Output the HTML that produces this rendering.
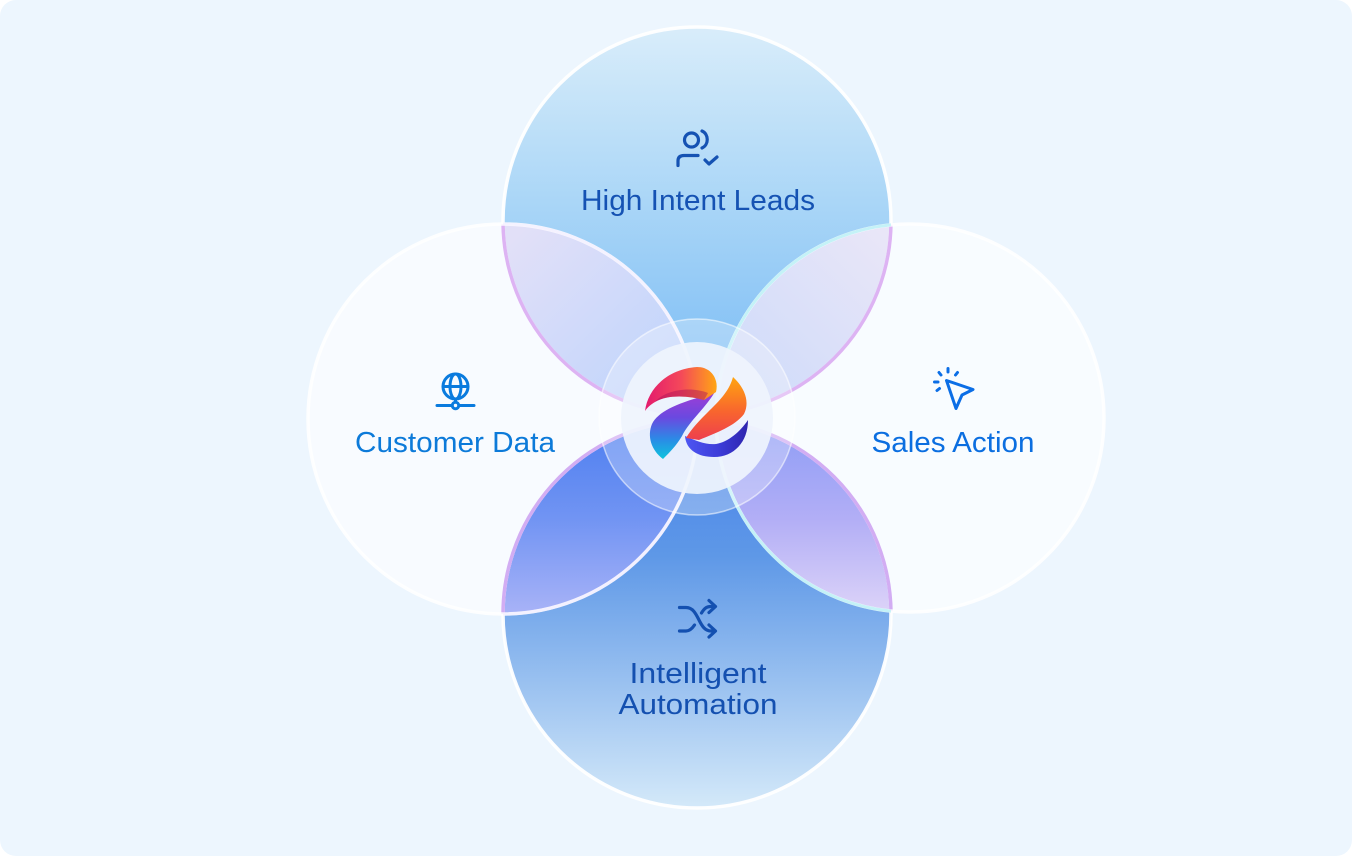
<!DOCTYPE html>
<html>
<head>
<meta charset="utf-8">
<style>
html,body{margin:0;padding:0;background:#ffffff;}
body{width:1352px;height:856px;overflow:hidden;}
svg{display:block;}
text{font-family:"Liberation Sans", sans-serif;}
</style>
</head>
<body>
<svg width="1352" height="856" viewBox="0 0 1352 856" xmlns="http://www.w3.org/2000/svg">
<defs>
  <linearGradient id="gTop" x1="0" y1="27" x2="0" y2="415" gradientUnits="userSpaceOnUse">
    <stop offset="0" stop-color="#D9EDFA"/>
    <stop offset="0.45" stop-color="#AAD6F7"/>
    <stop offset="1" stop-color="#74B8F4"/>
  </linearGradient>
  <linearGradient id="gBot" x1="0" y1="420" x2="0" y2="808" gradientUnits="userSpaceOnUse">
    <stop offset="0" stop-color="#4680EA"/>
    <stop offset="0.35" stop-color="#5E98E7"/>
    <stop offset="1" stop-color="#D4E9F9"/>
  </linearGradient>
  <linearGradient id="gTL" x1="520" y1="230" x2="690" y2="400" gradientUnits="userSpaceOnUse">
    <stop offset="0" stop-color="#E2E0F8"/>
    <stop offset="1" stop-color="#BCD3FC"/>
  </linearGradient>
  <linearGradient id="gTR" x1="880" y1="230" x2="715" y2="400" gradientUnits="userSpaceOnUse">
    <stop offset="0" stop-color="#E9E6F8"/>
    <stop offset="1" stop-color="#CCDAFA"/>
  </linearGradient>
  <linearGradient id="gBL" x1="0" y1="425" x2="0" y2="612" gradientUnits="userSpaceOnUse">
    <stop offset="0" stop-color="#4E7FF0"/>
    <stop offset="0.5" stop-color="#7194F3"/>
    <stop offset="1" stop-color="#A7B2F7"/>
  </linearGradient>
  <linearGradient id="gBR" x1="0" y1="425" x2="0" y2="612" gradientUnits="userSpaceOnUse">
    <stop offset="0" stop-color="#8E9DF5"/>
    <stop offset="0.5" stop-color="#B2AEF6"/>
    <stop offset="1" stop-color="#DCD3F8"/>
  </linearGradient>
  <clipPath id="cTop"><circle cx="697" cy="221" r="194"/></clipPath>
  <clipPath id="cBot"><circle cx="697" cy="614" r="194"/></clipPath>
  <clipPath id="cLR">
    <circle cx="503" cy="419" r="195"/>
    <circle cx="910" cy="418" r="194"/>
  </clipPath>
  <clipPath id="cTB">
    <circle cx="697" cy="221" r="194"/>
    <circle cx="697" cy="614" r="194"/>
  </clipPath>
  <linearGradient id="gBand" x1="0" y1="0" x2="0" y2="1">
    <stop offset="0" stop-color="#A43BD4"/>
    <stop offset="0.4" stop-color="#6A49E0"/>
    <stop offset="0.72" stop-color="#2A8CE6"/>
    <stop offset="1" stop-color="#0EC4DD"/>
  </linearGradient>
  <linearGradient id="gHook" x1="0" y1="0" x2="1" y2="0">
    <stop offset="0" stop-color="#E31A6E"/>
    <stop offset="0.5" stop-color="#F4485A"/>
    <stop offset="1" stop-color="#FFA614"/>
  </linearGradient>
  <linearGradient id="gBand2" x1="0" y1="0" x2="0" y2="1">
    <stop offset="0" stop-color="#FFA510"/>
    <stop offset="0.55" stop-color="#F8652E"/>
    <stop offset="1" stop-color="#EE3F4E"/>
  </linearGradient>
  <linearGradient id="gHook2" x1="0" y1="0" x2="1" y2="0">
    <stop offset="0" stop-color="#4D56F2"/>
    <stop offset="0.55" stop-color="#3C3CD8"/>
    <stop offset="1" stop-color="#2E24AE"/>
  </linearGradient>
</defs>

<!-- background -->
<rect x="0" y="0" width="1352" height="856" rx="16" ry="16" fill="#EDF6FE"/>

<!-- top and bottom circles -->
<circle cx="697" cy="221" r="194" fill="url(#gTop)"/>
<circle cx="697" cy="614" r="194" fill="url(#gBot)"/>

<!-- left and right circles (translucent white) -->
<circle cx="503" cy="419" r="195" fill="#FFFFFF" fill-opacity="0.6"/>
<circle cx="910" cy="418" r="194" fill="#FFFFFF" fill-opacity="0.62"/>

<!-- lens regions -->
<g clip-path="url(#cTop)">
  <circle cx="503" cy="419" r="195" fill="url(#gTL)"/>
  <circle cx="910" cy="418" r="194" fill="url(#gTR)"/>
</g>
<g clip-path="url(#cBot)">
  <circle cx="503" cy="419" r="195" fill="url(#gBL)"/>
  <circle cx="910" cy="418" r="194" fill="url(#gBR)"/>
</g>

<!-- strokes -->
<circle cx="697" cy="221" r="194" fill="none" stroke="#FFFFFF" stroke-width="3.5" stroke-opacity="0.95"/>
<circle cx="697" cy="614" r="194" fill="none" stroke="#FFFFFF" stroke-width="3.5" stroke-opacity="0.95"/>
<g clip-path="url(#cLR)">
  <circle cx="697" cy="221" r="194" fill="none" stroke="#DDB3F3" stroke-width="3.5"/>
  <circle cx="697" cy="614" r="194" fill="none" stroke="#D2ADF3" stroke-width="3.5"/>
</g>
<circle cx="503" cy="419" r="195" fill="none" stroke="#FFFFFF" stroke-width="3.5" stroke-opacity="0.85"/>
<circle cx="910" cy="418" r="194" fill="none" stroke="#FFFFFF" stroke-width="3.5" stroke-opacity="0.85"/>
<g clip-path="url(#cTB)">
  <circle cx="910" cy="418" r="194" fill="none" stroke="#BFF1F6" stroke-width="3" stroke-opacity="0.9"/>
  <circle cx="503" cy="419" r="195" fill="none" stroke="#F4F0FF" stroke-width="3" stroke-opacity="0.8"/>
</g>

<!-- center rings -->
<circle cx="697" cy="417" r="98" fill="#FFFFFF" fill-opacity="0.28" stroke="#FFFFFF" stroke-opacity="0.55" stroke-width="1.5"/>
<circle cx="697" cy="418" r="76" fill="#EFF4FD" fill-opacity="0.92"/>

<!-- logo: left swoosh -->
<path d="M 716 390 C 706 408, 690 420, 682 436 C 676 446, 670 452, 663 459 C 651 450, 647 436, 652 424 C 658 412, 675 404, 704 396 Z" fill="url(#gBand)"/>
<path d="M 645 411 C 648 388, 668 369, 697 367 C 712 367, 719 380, 716 392 L 704 400 C 690 396, 668 394, 655 402 C 650 405, 647 408, 645 411 Z" fill="url(#gHook)"/>
<path d="M 704 400 C 690 396, 668 394, 655 402 C 665 390, 690 386, 708 393 Z" fill="#A8105A" fill-opacity="0.45"/>

<!-- logo: right swoosh -->
<path d="M 685 436 C 686 450, 698 457, 714 457 C 734 457, 748 442, 748 420 C 740 432, 728 442, 716 444 C 706 445, 696 441, 685 436 Z" fill="url(#gHook2)"/>
<path d="M 733 377 C 745 388, 750 402, 744 414 C 735 426, 716 433, 699 440 L 686 438 C 692 428, 700 420, 708 412 C 718 402, 729 392, 733 377 Z" fill="url(#gBand2)"/>

<!-- Top icon: person with check -->
<g fill="none" stroke="#1552B3" stroke-width="3.2" stroke-linecap="round" stroke-linejoin="round">
  <circle cx="691.5" cy="140" r="7"/>
  <path d="M 702 131 C 709 134, 709 145, 702 148"/>
  <path d="M 678 165.5 L 678 161 Q 678 155.5 684 155.5 L 698 155.5"/>
  <path d="M 705 160 L 709 164 L 717 157"/>
</g>
<text x="698" y="210" font-size="29" fill="#1552B3" text-anchor="middle" textLength="234" lengthAdjust="spacingAndGlyphs">High Intent Leads</text>

<!-- Left icon: globe -->
<g fill="none" stroke="#0A7BDE" stroke-width="3" stroke-linecap="round">
  <circle cx="455.5" cy="386.5" r="12.5"/>
  <line x1="443" y1="386.5" x2="468" y2="386.5"/>
  <ellipse cx="455.5" cy="386.5" rx="5.5" ry="12.5"/>
  <line x1="455.5" y1="399" x2="455.5" y2="402"/>
  <line x1="437" y1="405.5" x2="451.5" y2="405.5"/>
  <line x1="459.5" y1="405.5" x2="474" y2="405.5"/>
  <circle cx="455.5" cy="405.5" r="3.2"/>
</g>
<text x="455" y="452" font-size="29" fill="#0C7AD9" text-anchor="middle" textLength="200" lengthAdjust="spacingAndGlyphs">Customer Data</text>

<!-- Right icon: cursor -->
<g fill="none" stroke="#0B6EE6" stroke-width="3" stroke-linecap="round" stroke-linejoin="round">
  <path d="M 946.5 380.5 L 973 389.5 L 962 395 L 956 408.5 Z"/>
  <line x1="948" y1="368.5" x2="948" y2="372"/>
  <line x1="957.5" y1="372.5" x2="955.5" y2="375"/>
  <line x1="934.5" y1="382" x2="938" y2="382"/>
  <line x1="937" y1="390.5" x2="939.5" y2="388.5"/>
  <line x1="939" y1="372.5" x2="941" y2="375"/>
</g>
<text x="953" y="452" font-size="29" fill="#0B6EE0" text-anchor="middle" textLength="163" lengthAdjust="spacingAndGlyphs">Sales Action</text>

<!-- Bottom icon: shuffle -->
<g fill="none" stroke="#1450B0" stroke-width="3.2" stroke-linecap="round" stroke-linejoin="round">
  <path d="M 679.5 607.5 L 686 607.5 C 693 607.5, 696 614, 699 620 C 702 626, 705 631, 711 631 L 715 631"/>
  <path d="M 709 625 L 715.5 631 L 709 637"/>
  <path d="M 679.5 631 L 686 631 C 690 631, 692.5 628, 694.5 625"/>
  <path d="M 701.5 613 C 704 609, 706 606.5, 711 606.5 L 715 606.5"/>
  <path d="M 709 600.5 L 715.5 606.5 L 709 612.5"/>
</g>
<text x="698" y="683" font-size="29" fill="#1450B0" text-anchor="middle" textLength="137" lengthAdjust="spacingAndGlyphs">Intelligent</text>
<text x="698" y="714" font-size="29" fill="#1450B0" text-anchor="middle" textLength="159" lengthAdjust="spacingAndGlyphs">Automation</text>
</svg>
</body>
</html>
